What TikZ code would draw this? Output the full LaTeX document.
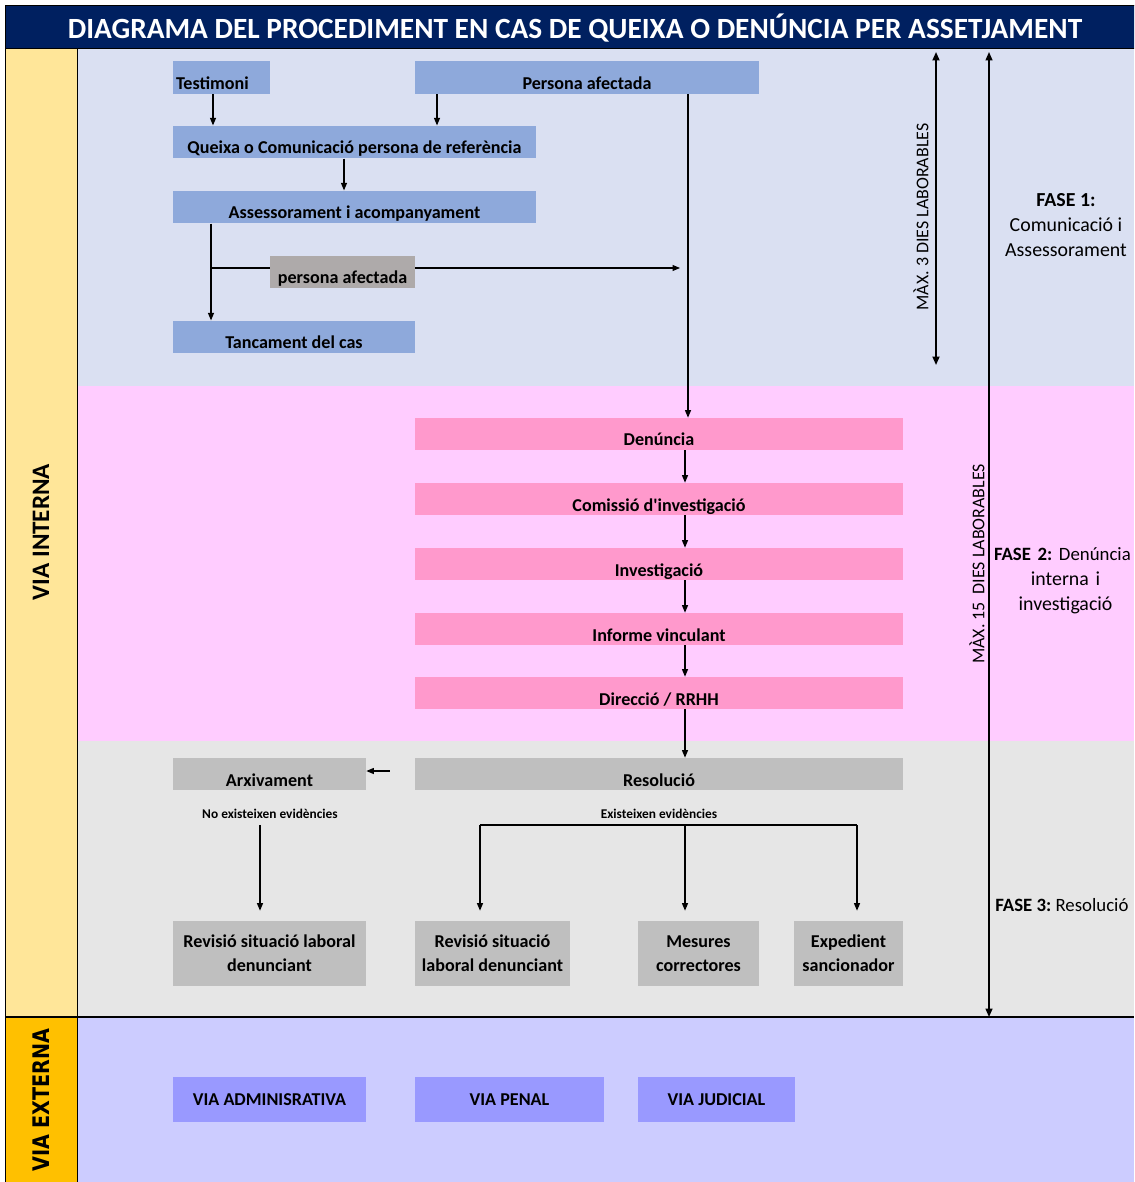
\documentclass[tikz,border=0pt]{standalone}
\usepackage{fontspec}
\setmainfont{Carlito}
\newfontfamily\widefont{DejaVu Sans}
\usetikzlibrary{arrows.meta}
\frenchspacing
\definecolor{titleblue}{HTML}{002060}
\definecolor{internacol}{HTML}{FFE699}
\definecolor{externacol}{HTML}{FFC000}
\definecolor{fase1col}{HTML}{DAE0F2}
\definecolor{fase2col}{HTML}{FFCCFF}
\definecolor{fase3col}{HTML}{E6E6E6}
\definecolor{viacol}{HTML}{CCCCFF}
\definecolor{bluecell}{HTML}{8EA9DB}
\definecolor{pinkcell}{HTML}{FF99CC}
\definecolor{greycell}{HTML}{BFBFBF}
\definecolor{darkcell}{HTML}{AEAAAA}
\definecolor{violetcell}{HTML}{9999FF}

\begin{document}
\begin{tikzpicture}[x = 0.02cm, y = -0.02cm,
  cell/.style = {inner sep = 0pt, font = \fontsize{10.3}{13.7}\selectfont\bfseries},
  low/.style = {text height = 0.56cm, text depth = 0.08cm},
  bluebox/.style = {cell, low, fill = bluecell, minimum height = 0.65cm},
  pinkbox/.style = {cell, low, fill = pinkcell, minimum width = 9.76cm, minimum height = 0.64cm},
  greybox/.style = {cell, fill = greycell},
  viabox/.style = {cell, fill = violetcell, minimum height = 0.9cm},
  arr/.style = {-{Triangle[length = 0.15cm, width = 0.12cm]}, line width = 0.6pt},
  lapse/.style = {{Triangle[length = 0.17cm, width = 0.14cm]}-{Triangle[length = 0.17cm, width = 0.14cm]}, line width = 1pt},
  vnote/.style = {rotate = 90, font = \fontsize{10.2}{12}\selectfont},
  fase/.style = {inner sep = 0pt, font = \fontsize{11.3}{14.2}\selectfont, align = center}]

\useasboundingbox (0,0) rectangle (1134,1182);
\clip (0,0) rectangle (1134,1182);
\fill[fase1col] (77,48) rectangle (1134,386);
\fill[fase2col] (77,386) rectangle (1134,741);
\fill[fase3col] (77,741) rectangle (1134,1017);
\fill[viacol] (77,1017) rectangle (1134,1182);
\draw[fill = titleblue] (5,5) rectangle (1140,48);
\draw[fill = internacol] (5,48) rectangle (77,1017);
\draw[fill = externacol] (5,1017) rectangle (77,1190);
\draw[line width = 1.2pt] (5,1017) -- (1134,1017);

\node[text = white, font = \fontsize{16.7}{18}\selectfont\bfseries] (titol) at (575,28) {DIAGRAMA DEL PROCEDIMENT EN CAS DE QUEIXA O DENÚNCIA PER ASSETJAMENT};
\node[rotate = 90, font = \fontsize{14.3}{16}\selectfont\bfseries] (interna) at (41,532) {VIA INTERNA};
\node[rotate = 90, font = \widefont\bfseries\fontsize{13}{15}\selectfont] (externa) at (41,1100) {\scalebox{0.84}[1]{VIA EXTERNA}};

\node[bluebox, minimum width = 1.94cm, text width = 1.82cm, align = left] (testimoni) at (221.5,77.5) {Testimoni};
\node[bluebox, minimum width = 6.88cm] (afectada) at (587,77.5) {Persona afectada};
\node[bluebox, minimum width = 7.26cm] (queixa) at (354.5,142) {Queixa o Comunicació persona de referència};
\node[bluebox, minimum width = 7.26cm] (assessorament) at (354.5,207) {Assessorament i acompanyament};
\node[bluebox, fill = darkcell, minimum width = 2.9cm] (afectada2) at (342.5,272) {persona afectada};
\node[bluebox, minimum width = 4.84cm] (tancament) at (294,337) {Tancament del cas};

\foreach \name/\y/\txt in {denuncia/434/Denúncia, comissio/499/Comissió d\textquotesingle investigació, investigacio/564/Investigació, informe/629/Informe vinculant, direccio/693/{Direcció / RRHH}}
  \node[pinkbox] (\name) at (659,\y) {\txt};

\node[greybox, low, minimum width = 9.76cm, minimum height = 0.64cm] (resolucio) at (659,774) {Resolució};
\node[greybox, low, minimum width = 3.86cm, minimum height = 0.64cm] (arxivament) at (269.5,774) {Arxivament};
\node[font = \fontsize{7.6}{8}\selectfont\bfseries] (noevid) at (270,814) {No existeixen evidències};
\node[font = \fontsize{7.6}{8}\selectfont\bfseries] (evid) at (659,814) {Existeixen evidències};
\node[greybox, align = center, minimum width = 3.86cm, minimum height = 1.3cm] (revisio1) at (269.5,953.5) {Revisió situació laboral\\denunciant};
\node[greybox, align = center, minimum width = 3.1cm, minimum height = 1.3cm] (revisio2) at (492.5,953.5) {Revisió situació\\laboral denunciant};
\node[greybox, align = center, minimum width = 2.42cm, minimum height = 1.3cm] (mesures) at (698.5,953.5) {Mesures\\correctores};
\node[greybox, align = center, minimum width = 2.18cm, minimum height = 1.3cm] (expedient) at (848.5,953.5) {Expedient\\sancionador};

\node[viabox, minimum width = 3.86cm] (administrativa) at (269.5,1099.5) {VIA ADMINISRATIVA};
\node[viabox, minimum width = 3.78cm] (penal) at (509.5,1099.5) {VIA PENAL};
\node[viabox, minimum width = 3.14cm] (judicial) at (716.5,1099.5) {VIA JUDICIAL};

\coordinate (f1top) at (936,52);
\coordinate (f1bot) at (936,365);
\draw[lapse] (f1top) -- (f1bot);
\node[vnote] (dies3) at (921,217) {MÀX. 3 DIES LABORABLES};
\coordinate (f2top) at (989,52);
\coordinate (f2bot) at (989,1017);
\draw[lapse, line width = 0.8pt] (f2top) -- (f2bot);
\node[vnote] (dies15) at (977,564) {MÀX. 15\ \ DIES LABORABLES};
\node[fase] (fase1) at (1066,225) {\textbf{FASE 1:}\\Comunicació i\\Assessorament};
\node[fase, text width = 2.74cm] (fase2) at (1065.5,581) {\makebox[\linewidth][l]{\hspace{-0.06cm}\fontsize{10.7}{14.2}\selectfont\textbf{FASE 2:} Denúncia}\\interna i\\investigació};
\node[fase, anchor = west, font = \fontsize{10.7}{14.2}\selectfont] (fase3) at (995,905) {\textbf{FASE 3:} Resolució};

\draw[arr] (testimoni.south -| 213,0) -- (queixa.north -| 213,0);
\draw[arr] (afectada.south -| 437,0) -- (queixa.north -| 437,0);
\draw[arr] (queixa.south -| 344,0) -- (assessorament.north -| 344,0);
\draw[arr] (assessorament.south -| 211,0) -- (tancament.north -| 211,0);
\coordinate (branca) at (211,268);
\coordinate (enllac) at (680,268);
\draw[line width = 0.6pt] (branca) -- (afectada2.west |- branca);
\draw[arr] (afectada2.east |- branca) -- (enllac);
\draw[arr] (afectada.south -| 688,0) -- (denuncia.north -| 688,0);
\foreach \from/\to in {denuncia/comissio, comissio/investigacio, investigacio/informe, informe/direccio, direccio/resolucio}
  \draw[arr] (\from.south -| 685,0) -- (\to.north -| 685,0);
\draw[arr] ([xshift = -0.5cm, yshift = 0.06cm]resolucio.west) -- ([yshift = 0.06cm]arxivament.east);
\draw[arr, shorten >= 0.2cm] (noevid.south -| 260,0) -- (revisio1.north -| 260,0);
\coordinate (reparteix) at (685,825);
\draw[line width = 0.6pt] (reparteix -| 480,0) -- (reparteix -| 857,0);
\draw[arr, shorten >= 0.2cm] (reparteix -| 480,0) -- (revisio2.north -| 480,0);
\draw[arr, shorten >= 0.2cm] (reparteix) -- (mesures.north -| 685,0);
\draw[arr, shorten >= 0.2cm] (reparteix -| 857,0) -- (expedient.north -| 857,0);
\end{tikzpicture}
\end{document}
